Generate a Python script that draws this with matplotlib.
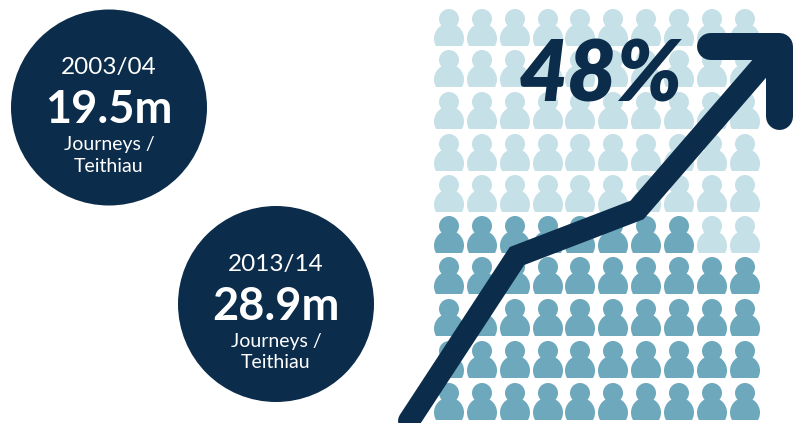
import matplotlib
matplotlib.use('Agg')
import matplotlib.pyplot as plt
from matplotlib.patches import Circle, Rectangle

plt.rcParams['font.family'] = ['Lato', 'Open Sans', 'DejaVu Sans']

years = ['2003/04', '2013/14']
journeys = [19.5, 28.9]
increase_pct = 48
n_cols = 10
n_rows = 10

# pixel layout of the original picture
bubble_x = [109, 276]
bubble_y = [107.5, 304]
col_x = [449, 482, 515, 548, 580, 613, 646, 679, 712, 745]
row_top = [9, 50, 92, 134, 175, 216, 257, 299, 341, 383]
trend_x = [409, 517, 637, 779]
trend_y = [421, 256, 210, 46]
head_x = [710, 779, 779]
head_y = [46.5, 46.5, 116]

NAVY = '#0b2c4a'
LIGHT = '#c5e0e7'
MID = '#6ea8bc'
PX = 0.72  # points per pixel at dpi 100

fig = plt.figure(figsize=(8.02, 4.23), dpi=100)
ax = fig.add_axes([0, 0, 1, 1])
ax.set_xlim(0, 802)
ax.set_ylim(423, 0)
ax.axis('off')


def person(x, top, color):
    ax.add_patch(Circle((x, top + 10), 10, fc=color, ec='none', zorder=2))
    body = Circle((x, top + 29.5), 15, fc=color, ec='none', zorder=2)
    ax.add_patch(body)
    body.set_clip_path(Rectangle((x - 16, top + 10), 32, 27, transform=ax.transData))


# one person per percent, filled from the bottom right row upwards
n_dark = int(increase_pct)
for r in range(n_rows):
    for c in range(n_cols):
        index_from_end = (n_rows - 1 - r) * n_cols + c
        person(col_x[c], row_top[r], MID if index_from_end < n_dark else LIGHT)

ax.plot(trend_x, trend_y, color=NAVY, lw=22 * PX, solid_capstyle='round',
        solid_joinstyle='miter', zorder=3)
ax.plot(head_x, head_y, color=NAVY, lw=27 * PX, solid_capstyle='round',
        solid_joinstyle='round', zorder=3)

ax.text(601, 77, '%d%%' % increase_pct, fontsize=61, fontweight='heavy', style='italic',
        color=NAVY, ha='center', va='center', zorder=4)

for i in range(len(years)):
    x, y = bubble_x[i], bubble_y[i]
    ax.add_patch(Circle((x, y), 98, fc=NAVY, ec='none', zorder=2))
    ax.text(x, y - 40, years[i], fontsize=17.5, color='white', ha='center', va='center', zorder=5)
    ax.text(x, y + 2.5, '%.1fm' % journeys[i], fontsize=32.5, fontweight='bold', color='white',
            ha='center', va='center', zorder=5)
    ax.text(x, y + 37, 'Journeys /', fontsize=14, color='white', ha='center', va='center', zorder=5)
    ax.text(x, y + 58.5, 'Teithiau', fontsize=14, color='white', ha='center', va='center', zorder=5)

fig.savefig('out.png', dpi=100, facecolor='white')
